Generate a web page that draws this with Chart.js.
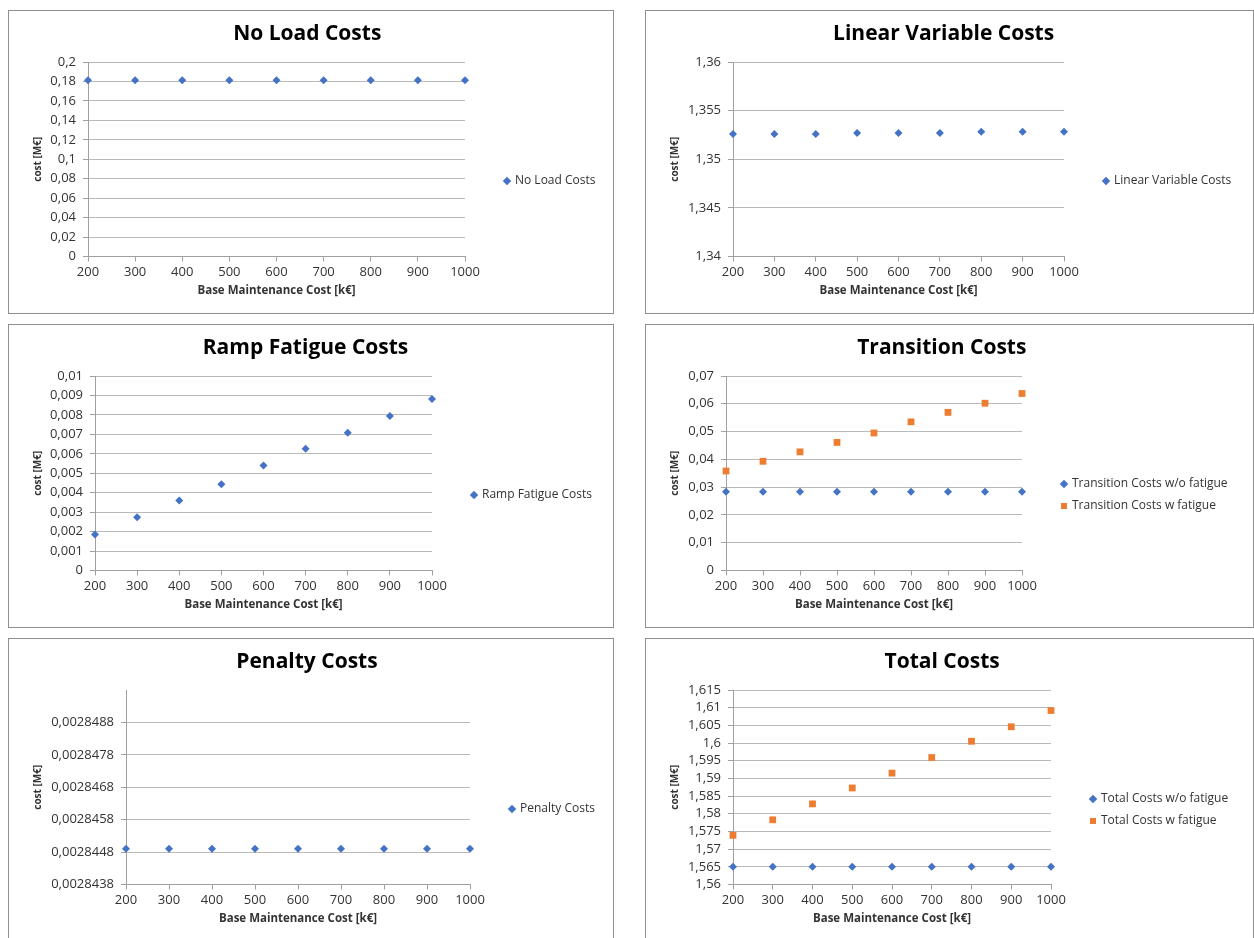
<!DOCTYPE html>
<html>
<head>
<meta charset="utf-8">
<script src="https://cdn.jsdelivr.net/npm/chart.js@4.4.1/dist/chart.umd.min.js"></script>
<style>
html, body { margin: 0; padding: 0; background: #ffffff; }
body { width: 1254px; height: 938px; position: relative; overflow: hidden; }
.panel { position: absolute; border: 1px solid #8f8f8f; background: #ffffff; }
.panel canvas { position: absolute; left: 0; top: 0; }
</style>
</head>
<body>
<div class="panel" style="left:8px;top:10px;width:604px;height:302px"><canvas id="c1" width="604" height="302"></canvas></div>
<div class="panel" style="left:645px;top:10px;width:607px;height:302px"><canvas id="c2" width="607" height="302"></canvas></div>
<div class="panel" style="left:8px;top:324px;width:604px;height:302px"><canvas id="c3" width="604" height="302"></canvas></div>
<div class="panel" style="left:645px;top:324px;width:607px;height:302px"><canvas id="c4" width="607" height="302"></canvas></div>
<div class="panel" style="left:8px;top:638px;width:604px;height:302px"><canvas id="c5" width="604" height="302"></canvas></div>
<div class="panel" style="left:645px;top:638px;width:607px;height:302px"><canvas id="c6" width="607" height="302"></canvas></div>
<script>
// ---- data ----
const xValues = [200, 300, 400, 500, 600, 700, 800, 900, 1000];

const noLoadCosts = [0.1812, 0.1812, 0.1812, 0.1812, 0.1812, 0.1812, 0.1812, 0.1812, 0.1812];
const linearVariableCosts = [1.35259, 1.35259, 1.35259, 1.35269, 1.35269, 1.35269, 1.35283, 1.35283, 1.35283];
const rampFatigueCosts = [0.00185, 0.00274, 0.0036, 0.00443, 0.0054, 0.00626, 0.00708, 0.00794, 0.00882];
const transitionCostsNoFatigue = [0.0283, 0.0283, 0.0283, 0.0283, 0.0283, 0.0283, 0.0283, 0.0283, 0.0283];
const transitionCostsFatigue = [0.0358, 0.0393, 0.0427, 0.0461, 0.0495, 0.0535, 0.0569, 0.0602, 0.0637];
const penaltyCosts = [0.0028449, 0.0028449, 0.0028449, 0.0028449, 0.0028449, 0.0028449, 0.0028449, 0.0028449, 0.0028449];
const totalCostsNoFatigue = [1.565, 1.565, 1.565, 1.565, 1.565, 1.565, 1.565, 1.565, 1.565];
const totalCostsFatigue = [1.5739, 1.5783, 1.5828, 1.5873, 1.5915, 1.5959, 1.6005, 1.6046, 1.6092];

// y-axis tick values
const noLoadTicks = [0, 0.02, 0.04, 0.06, 0.08, 0.1, 0.12, 0.14, 0.16, 0.18, 0.2];
const linearVariableTicks = [1.34, 1.345, 1.35, 1.355, 1.36];
const rampFatigueTicks = [0, 0.001, 0.002, 0.003, 0.004, 0.005, 0.006, 0.007, 0.008, 0.009, 0.01];
const transitionTicks = [0, 0.01, 0.02, 0.03, 0.04, 0.05, 0.06, 0.07];
const penaltyTicks = [0.0028438, 0.0028448, 0.0028458, 0.0028468, 0.0028478, 0.0028488];
const penaltyAxisMax = 0.0028498;
const totalTicks = [1.56, 1.565, 1.57, 1.575, 1.58, 1.585, 1.59, 1.595, 1.6, 1.605, 1.61, 1.615];

// ---- styling ----
const BLUE = '#4472C4';
const ORANGE = '#ED7D31';
const FAMILY = "'Open Sans', 'DejaVu Sans', sans-serif";
const LEGEND_SIZE = 12;
Chart.defaults.font.family = FAMILY;
Chart.defaults.color = '#333333';

function fmt(v) { return String(v).replace('.', ','); }

function textWidth(texts, size) {
  const ctx = document.createElement('canvas').getContext('2d');
  ctx.font = size + 'px ' + FAMILY;
  return Math.max.apply(null, texts.map(t => ctx.measureText(t).width));
}

function makeChart(id, cfg) {
  const canvas = document.getElementById(id);
  const W = canvas.width;
  const tw = textWidth(cfg.series.map(s => s.label), LEGEND_SIZE);
  const legendW = 10 + 4 + LEGEND_SIZE / 2 + tw + 10;
  const rest = W - cfg.plotRight - legendW;
  const gap = Math.max(0, Math.min(30, rest));
  const padR = Math.max(0, rest - gap);

  const datasets = cfg.series.map(s => ({
    label: s.label,
    data: xValues.map((x, i) => ({ x: x, y: s.values[i] })),
    xAxisID: 'x',
    yAxisID: 'y',
    showLine: false,
    clip: false,
    pointStyle: s.style,
    pointRadius: s.radius,
    pointHoverRadius: s.radius,
    backgroundColor: s.color,
    borderColor: s.color,
    pointBackgroundColor: s.color,
    pointBorderColor: s.color,
    borderWidth: 0,
    pointBorderWidth: 0
  }));

  return new Chart(canvas, {
    type: 'scatter',
    data: { datasets: datasets },
    options: {
      responsive: false,
      devicePixelRatio: 1,
      animation: false,
      events: [],
      layout: { padding: { left: 0, top: 0, bottom: 0, right: padR } },
      plugins: {
        tooltip: { enabled: false },
        title: {
          display: true,
          text: cfg.title,
          color: '#000000',
          font: { size: 21, weight: 'bold', lineHeight: 1.2 },
          padding: { top: 10, bottom: 15.8 }
        },
        legend: {
          display: true,
          position: 'right',
          align: 'start',
          maxWidth: 1000,
          title: { display: true, text: ' ', font: { size: 10, lineHeight: 1 }, padding: { top: cfg.legendOffset - 10, bottom: 0 } },
          labels: {
            usePointStyle: true,
            boxWidth: 4,
            boxHeight: 6,
            padding: 10,
            color: '#333333',
            font: { size: LEGEND_SIZE }
          }
        }
      },
      scales: {
        x: {
          type: 'linear',
          position: 'bottom',
          min: xValues[0],
          max: xValues[xValues.length - 1],
          afterBuildTicks: s => { s.ticks = xValues.map(v => ({ value: v })); },
          afterFit: s => { s.height = 56.5; },
          grid: { drawOnChartArea: false, drawTicks: true, tickLength: 5, tickColor: '#a0a0a0' },
          border: { color: '#a0a0a0', width: 1 },
          ticks: { padding: 3, autoSkip: false, maxRotation: 0, color: '#333333', font: { size: 13 }, callback: v => String(v) },
          title: {
            display: true,
            text: 'Base Maintenance Cost [k€]',
            color: '#333333',
            font: { size: 11.5, weight: 'bold', lineHeight: 1.2 },
            padding: { top: 0, bottom: 15.6 }
          }
        },
        y: {
          type: 'linear',
          position: 'left',
          min: cfg.yTicks[0],
          max: cfg.yMax !== undefined ? cfg.yMax : cfg.yTicks[cfg.yTicks.length - 1],
          afterBuildTicks: s => { s.ticks = cfg.yTicks.map(v => ({ value: v })); },
          afterFit: s => { s.width = cfg.plotLeft; },
          grid: { color: '#bababa', lineWidth: 1, drawTicks: true, tickLength: 5, tickColor: '#a0a0a0' },
          border: { color: '#a0a0a0', width: 1 },
          ticks: { padding: 7, autoSkip: false, color: '#333333', font: { size: 13 }, callback: v => fmt(v) },
          title: {
            display: true,
            text: 'cost [M€]',
            color: '#333333',
            font: { size: 10, weight: 'bold', lineHeight: 1.2 },
            padding: { top: 23, bottom: 0 }
          }
        },
        gap: {
          type: 'linear',
          position: 'right',
          display: true,
          grid: { display: false },
          border: { display: false },
          ticks: { display: false },
          title: { display: false },
          afterFit: s => { s.width = gap; }
        }
      }
    }
  });
}

makeChart('c1', {
  title: 'No Load Costs',
  series: [{ label: 'No Load Costs', values: noLoadCosts, style: 'rectRot', radius: 4, color: BLUE }],
  yTicks: noLoadTicks, plotLeft: 79, plotRight: 456, legendOffset: 154
});
makeChart('c2', {
  title: 'Linear Variable Costs',
  series: [{ label: 'Linear Variable Costs', values: linearVariableCosts, style: 'rectRot', radius: 4, color: BLUE }],
  yTicks: linearVariableTicks, plotLeft: 87, plotRight: 418, legendOffset: 154
});
makeChart('c3', {
  title: 'Ramp Fatigue Costs',
  series: [{ label: 'Ramp Fatigue Costs', values: rampFatigueCosts, style: 'rectRot', radius: 4, color: BLUE }],
  yTicks: rampFatigueTicks, plotLeft: 86, plotRight: 423, legendOffset: 154
});
makeChart('c4', {
  title: 'Transition Costs',
  series: [
    { label: 'Transition Costs w/o fatigue', values: transitionCostsNoFatigue, style: 'rectRot', radius: 4, color: BLUE },
    { label: 'Transition Costs w fatigue', values: transitionCostsFatigue, style: 'rect', radius: 4.8, color: ORANGE }
  ],
  yTicks: transitionTicks, plotLeft: 80, plotRight: 376, legendOffset: 143
});
makeChart('c5', {
  title: 'Penalty Costs',
  series: [{ label: 'Penalty Costs', values: penaltyCosts, style: 'rectRot', radius: 4, color: BLUE }],
  yTicks: penaltyTicks, yMax: penaltyAxisMax, plotLeft: 117, plotRight: 461, legendOffset: 154
});
makeChart('c6', {
  title: 'Total Costs',
  series: [
    { label: 'Total Costs w/o fatigue', values: totalCostsNoFatigue, style: 'rectRot', radius: 4, color: BLUE },
    { label: 'Total Costs w fatigue', values: totalCostsFatigue, style: 'rect', radius: 4.8, color: ORANGE }
  ],
  yTicks: totalTicks, plotLeft: 87, plotRight: 405, legendOffset: 144
});
</script>
</body>
</html>
